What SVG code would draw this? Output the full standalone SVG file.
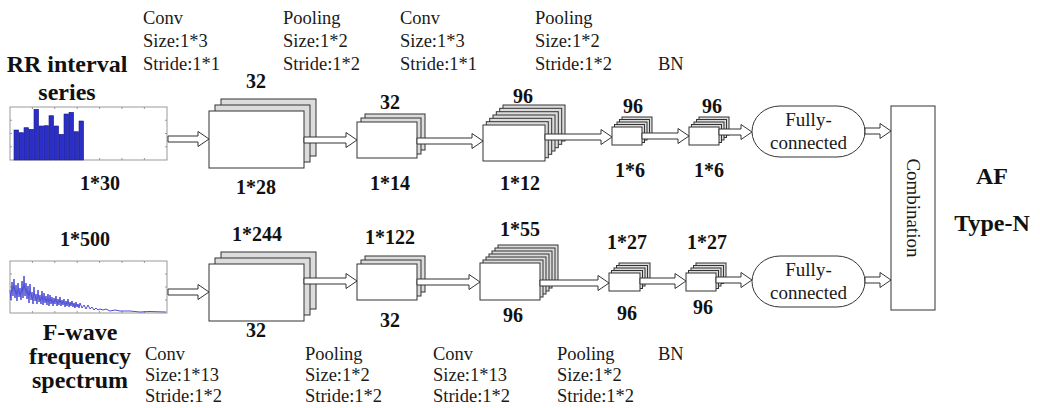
<svg xmlns="http://www.w3.org/2000/svg" width="1040" height="408" viewBox="0 0 1040 408">
<style>
.lbl{font-family:"Liberation Serif","Times New Roman",serif;font-size:18.5px;fill:#1a1a1a}
.num{font-family:"Liberation Serif","Times New Roman",serif;font-size:20px;font-weight:bold;fill:#111;text-anchor:middle}
.ttl{font-family:"Liberation Serif","Times New Roman",serif;font-size:24px;font-weight:bold;fill:#111;text-anchor:middle}
.out{font-family:"Liberation Serif","Times New Roman",serif;font-size:24px;font-weight:bold;fill:#111;text-anchor:middle}
.fc{font-family:"Liberation Serif","Times New Roman",serif;font-size:19px;fill:#1a1a1a;text-anchor:middle}
.bk{fill:#dcdcdc;stroke:#333;stroke-width:1}
.fr{fill:#fff;stroke:#333;stroke-width:1}
.arr{fill:#fff;stroke:#333;stroke-width:1;stroke-linejoin:miter}
.chart{fill:#fff;stroke:#999;stroke-width:1}
.tick{stroke:#999;stroke-width:1}
.bar{fill:#2b2fc8;stroke:#1a1c8a;stroke-width:0.6}
</style>
<rect width="1040" height="408" fill="#fff"/>

<!-- Titles -->
<g id="rr-title">
<text class="ttl" x="67" y="72">RR interval</text>
<text class="ttl" x="67" y="100">series</text>
</g>
<g id="fwave-title">
<text class="ttl" x="80" y="340">F-wave</text>
<text class="ttl" x="80" y="364">frequency</text>
<text class="ttl" x="80" y="388">spectrum</text>
</g>

<!-- RR chart -->
<g id="rr-chart">
<rect class="chart" x="10" y="107" width="157" height="53"/>
<path class="tick" d="M32.4,160v-2M54.8,160v-2M77.2,160v-2M99.6,160v-2M122,160v-2M144.4,160v-2M32.4,107v2M54.8,107v2M77.2,107v2M99.6,107v2M122,107v2M144.4,107v2M10,120.25h2M10,133.5h2M10,146.75h2M167,120.25h-2M167,133.5h-2M167,146.75h-2"/>
<rect class="bar" x="14" y="130" width="4.6" height="30"/>
<rect class="bar" x="19" y="132.7" width="4.6" height="27.3"/>
<rect class="bar" x="24" y="127.7" width="4.6" height="32.3"/>
<rect class="bar" x="29" y="129.3" width="4.6" height="30.7"/>
<rect class="bar" x="34" y="109.3" width="4.6" height="50.7"/>
<rect class="bar" x="39" y="126" width="4.6" height="34"/>
<rect class="bar" x="44" y="125.7" width="4.6" height="34.3"/>
<rect class="bar" x="49" y="115.7" width="4.6" height="44.3"/>
<rect class="bar" x="54" y="126" width="4.6" height="34"/>
<rect class="bar" x="59" y="134.3" width="4.6" height="25.7"/>
<rect class="bar" x="64" y="114" width="4.6" height="46"/>
<rect class="bar" x="69" y="112.3" width="4.6" height="47.7"/>
<rect class="bar" x="74" y="131.7" width="4.6" height="28.3"/>
<rect class="bar" x="79" y="121" width="4.6" height="39"/>
<text class="num" x="100" y="190">1*30</text>
</g>

<!-- F-wave chart -->
<g id="fwave-chart">
<text class="num" x="85" y="246">1*500</text>
<rect class="chart" x="10" y="261" width="157" height="52"/>
<path class="tick" d="M32.4,313v-2M54.8,313v-2M77.2,313v-2M99.6,313v-2M122,313v-2M144.4,313v-2M32.4,261v2M54.8,261v2M77.2,261v2M99.6,261v2M122,261v2M144.4,261v2M10,274h2M10,287h2M10,300h2M167,274h-2M167,287h-2M167,300h-2"/>
<polyline fill="none" stroke="#3a3ad0" stroke-width="0.9" points="10,290 11,300 12,282 13,296 14,279 15,298 16,285 17,301 18,283 19,297 20,288 21,300 22,281 23,298 24,276 25,296 26,283 27,299 28,286 29,303 30,284 31,300 32,292 33,304 34,287 35,301 36,294 37,304 38,290 39,302 40,295 41,304 42,291 43,305 44,293 45,303 46,296 47,305 48,294 49,306 50,295 51,304 52,297 53,306 54,298 55,304 56,296 57,306 58,299 59,305 60,297 61,306 62,300 63,305 64,299 65,307 66,301 67,306 68,299 69,307 70,302 71,306 72,301 73,307 74,303 75,308 76,302 77,307 78,304 79,308 80,303 82,308 84,305 86,309 88,305 90,309 92,307 94,310 96,308 98,310 100,309 103,310 106,309 110,311 115,310 120,311 130,311 140,312 150,311.5 166,312"/>
</g>

<!-- Top layer labels -->
<g id="top-labels">
<text class="lbl" x="143" y="24">Conv</text>
<text class="lbl" x="143" y="47">Size:1*3</text>
<text class="lbl" x="143" y="70">Stride:1*1</text>
<text class="lbl" x="283" y="24">Pooling</text>
<text class="lbl" x="283" y="47">Size:1*2</text>
<text class="lbl" x="283" y="70">Stride:1*2</text>
<text class="lbl" x="400" y="24">Conv</text>
<text class="lbl" x="400" y="47">Size:1*3</text>
<text class="lbl" x="400" y="70">Stride:1*1</text>
<text class="lbl" x="535" y="24">Pooling</text>
<text class="lbl" x="535" y="47">Size:1*2</text>
<text class="lbl" x="535" y="70">Stride:1*2</text>
<text class="lbl" x="658" y="70">BN</text>
</g>

<!-- Bottom layer labels -->
<g id="bottom-labels">
<text class="lbl" x="145" y="360">Conv</text>
<text class="lbl" x="145" y="381">Size:1*13</text>
<text class="lbl" x="145" y="402">Stride:1*2</text>
<text class="lbl" x="305" y="360">Pooling</text>
<text class="lbl" x="305" y="381">Size:1*2</text>
<text class="lbl" x="305" y="402">Stride:1*2</text>
<text class="lbl" x="433" y="360">Conv</text>
<text class="lbl" x="433" y="381">Size:1*13</text>
<text class="lbl" x="433" y="402">Stride:1*2</text>
<text class="lbl" x="557" y="360">Pooling</text>
<text class="lbl" x="557" y="381">Size:1*2</text>
<text class="lbl" x="557" y="402">Stride:1*2</text>
<text class="lbl" x="658" y="360">BN</text>
</g>

<!-- Top stacks -->
<g id="top-conv1">
<rect class="bk" x="221" y="99" width="95" height="57"/>
<rect class="bk" x="215" y="105" width="95" height="57"/>
<rect class="fr" x="209" y="111" width="95" height="57"/>
<text class="num" x="256" y="88">32</text>
<text class="num" x="256" y="194">1*28</text>
</g>
<g id="top-pool1">
<rect class="bk" x="365" y="114" width="60" height="36"/>
<rect class="bk" x="361" y="118" width="60" height="36"/>
<rect class="fr" x="357" y="122" width="60" height="36"/>
<text class="num" x="390" y="109">32</text>
<text class="num" x="390" y="190">1*14</text>
</g>
<g id="top-conv2">
<rect class="bk" x="503" y="105" width="62" height="36"/>
<rect class="bk" x="499.7" y="108.3" width="62" height="36"/>
<rect class="bk" x="496.3" y="111.7" width="62" height="36"/>
<rect class="bk" x="493" y="115" width="62" height="36"/>
<rect class="bk" x="489.7" y="118.3" width="62" height="36"/>
<rect class="bk" x="486.3" y="121.7" width="62" height="36"/>
<rect class="fr" x="483" y="125" width="62" height="36"/>
<text class="num" x="523" y="103">96</text>
<text class="num" x="520" y="190">1*12</text>
</g>
<g id="top-pool2">
<rect class="bk" x="622" y="117" width="30" height="18"/>
<rect class="bk" x="619.5" y="119.5" width="30" height="18"/>
<rect class="bk" x="617" y="122" width="30" height="18"/>
<rect class="bk" x="614.5" y="124.5" width="30" height="18"/>
<rect class="fr" x="612" y="127" width="30" height="18"/>
<text class="num" x="633" y="113">96</text>
<text class="num" x="630" y="177">1*6</text>
</g>
<g id="top-bn">
<rect class="bk" x="699" y="117" width="30" height="18"/>
<rect class="bk" x="696.5" y="119.5" width="30" height="18"/>
<rect class="bk" x="694" y="122" width="30" height="18"/>
<rect class="bk" x="691.5" y="124.5" width="30" height="18"/>
<rect class="fr" x="689" y="127" width="30" height="18"/>
<text class="num" x="712" y="113">96</text>
<text class="num" x="709" y="177">1*6</text>
</g>

<!-- Bottom stacks -->
<g id="bot-conv1">
<rect class="bk" x="221" y="252" width="95" height="57"/>
<rect class="bk" x="215" y="258" width="95" height="57"/>
<rect class="fr" x="209" y="264" width="95" height="57"/>
<text class="num" x="257" y="241">1*244</text>
<text class="num" x="256" y="337">32</text>
</g>
<g id="bot-pool1">
<rect class="bk" x="365" y="256" width="60" height="36"/>
<rect class="bk" x="361" y="260" width="60" height="36"/>
<rect class="fr" x="357" y="264" width="60" height="36"/>
<text class="num" x="390" y="244">1*122</text>
<text class="num" x="390" y="327">32</text>
</g>
<g id="bot-conv2">
<rect class="bk" x="498" y="245" width="60" height="37"/>
<rect class="bk" x="495" y="248" width="60" height="37"/>
<rect class="bk" x="492" y="251" width="60" height="37"/>
<rect class="bk" x="489" y="254" width="60" height="37"/>
<rect class="bk" x="486" y="257" width="60" height="37"/>
<rect class="bk" x="483" y="260" width="60" height="37"/>
<rect class="fr" x="480" y="263" width="60" height="37"/>
<text class="num" x="520" y="236">1*55</text>
<text class="num" x="513" y="322">96</text>
</g>
<g id="bot-pool2">
<rect class="bk" x="619" y="263" width="31" height="18"/>
<rect class="bk" x="616.5" y="265.5" width="31" height="18"/>
<rect class="bk" x="614" y="268" width="31" height="18"/>
<rect class="bk" x="611.5" y="270.5" width="31" height="18"/>
<rect class="fr" x="609" y="273" width="31" height="18"/>
<text class="num" x="627" y="249">1*27</text>
<text class="num" x="627" y="320">96</text>
</g>
<g id="bot-bn">
<rect class="bk" x="696" y="263" width="30" height="18"/>
<rect class="bk" x="693.5" y="265.5" width="30" height="18"/>
<rect class="bk" x="691" y="268" width="30" height="18"/>
<rect class="bk" x="688.5" y="270.5" width="30" height="18"/>
<rect class="fr" x="686" y="273" width="30" height="18"/>
<text class="num" x="707" y="249">1*27</text>
<text class="num" x="703" y="314">96</text>
</g>

<!-- Fully connected -->
<g id="fc-top">
<rect class="fr" x="752" y="106" width="113" height="51" rx="28" ry="25.5"/>
<text class="fc" x="808.5" y="126">Fully-</text>
<text class="fc" x="808.5" y="149">connected</text>
</g>
<g id="fc-bottom">
<rect class="fr" x="752" y="256" width="113" height="51" rx="28" ry="25.5"/>
<text class="fc" x="808.5" y="276">Fully-</text>
<text class="fc" x="808.5" y="299">connected</text>
</g>

<!-- Combination -->
<g id="combination">
<rect class="fr" x="891" y="106" width="44" height="204"/>
<text class="fc" font-size="20" transform="translate(913,208) rotate(90)" x="0" y="6">Combination</text>
</g>

<g id="outputs">
<text class="out" x="992" y="184">AF</text>
<text class="out" x="992" y="231">Type-N</text>
</g>

<!-- Connectors -->
<g id="connectors">
<polygon class="arr" points="168,136 198,136 198,131.5 209,139 198,146.5 198,142 168,142"/>
<polygon class="arr" points="304,137 346,137 346,132.5 357,140 346,147.5 346,143 304,143"/>
<polygon class="arr" points="417,138 472,138 472,133.5 483,141 472,148.5 472,144 417,144"/>
<polygon class="arr" points="545,134 601,134 601,129.5 612,137 601,144.5 601,140 545,140"/>
<polygon class="arr" points="642,133 678,133 678,128.5 689,136 678,143.5 678,139 642,139"/>
<polygon class="arr" points="719,129 741,129 741,124.5 752,132 741,139.5 741,135 719,135"/>
<polygon class="arr" points="865,128 880,128 880,123.5 891,131 880,138.5 880,134 865,134"/>
<polygon class="arr" points="168,289 198,289 198,284.5 209,292 198,299.5 198,295 168,295"/>
<polygon class="arr" points="304,278 346,278 346,273.5 357,281 346,288.5 346,284 304,284"/>
<polygon class="arr" points="417,279 469,279 469,274.5 480,282 469,289.5 469,285 417,285"/>
<polygon class="arr" points="540,280 598,280 598,275.5 609,283 598,290.5 598,286 540,286"/>
<polygon class="arr" points="640,278 675,278 675,273.5 686,281 675,288.5 675,284 640,284"/>
<polygon class="arr" points="716,277 741,277 741,272.5 752,280 741,287.5 741,283 716,283"/>
<polygon class="arr" points="865,277 880,277 880,272.5 891,280 880,287.5 880,283 865,283"/>
</g>
</svg>
